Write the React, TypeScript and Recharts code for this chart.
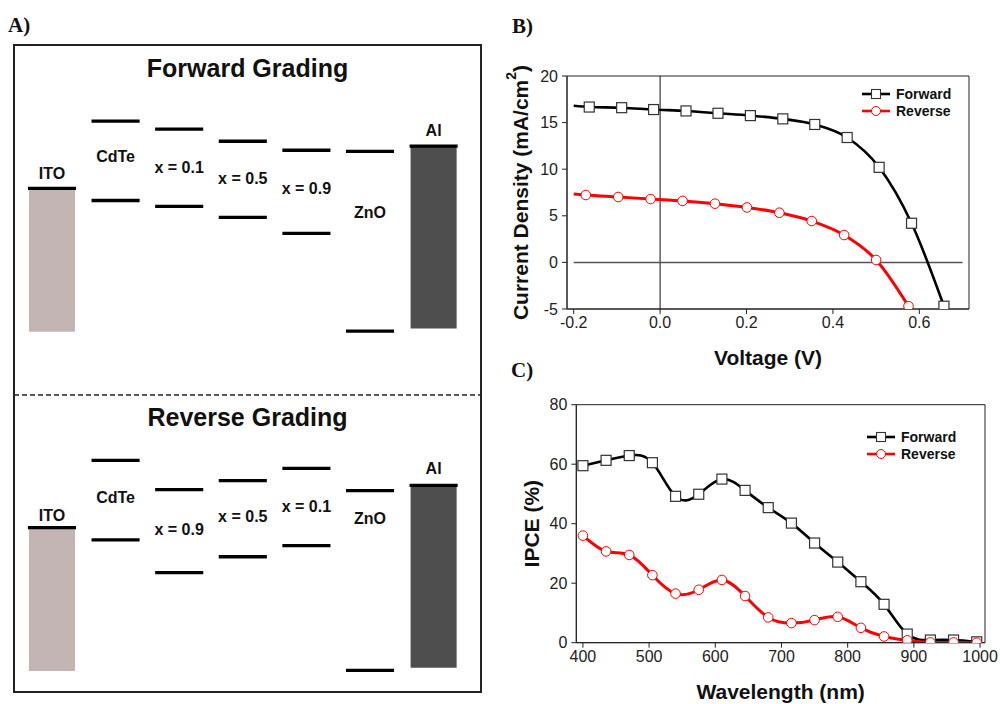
import {
  ComposedChart, LineChart, Line, Scatter, XAxis, YAxis, ReferenceLine, ReferenceArea, Label,
} from "recharts";

const SANS = "'Liberation Sans', Arial, sans-serif";
const SERIF = "'Liberation Serif', 'Times New Roman', serif";

// ---- A) energy levels (eV) ----
const fwdLayers = ["ITO", "CdTe", "x = 0.1", "x = 0.5", "x = 0.9", "ZnO", "Al"];
const fwdUpper = [-5.1, -3.83, -3.98, -4.21, -4.38, -4.4, -4.3];
const fwdLower = [-7.81, -5.33, -5.44, -5.65, -5.95, -7.8, -7.75];
const fwdLabelE = [-4.81, -4.5, -4.71, -4.91, -5.11, -5.56, -4.0];

const revLayers = ["ITO", "CdTe", "x = 0.9", "x = 0.5", "x = 0.1", "ZnO", "Al"];
const revUpper = [-5.1, -3.83, -4.38, -4.21, -3.98, -4.4, -4.3];
const revLower = [-7.81, -5.33, -5.95, -5.65, -5.44, -7.8, -7.75];
const revLabelE = [-4.88, -4.53, -5.13, -4.89, -4.7, -4.92, -3.99];

// electrodes are drawn as filled blocks
const electrodeFill: Record<string, string> = { ITO: "#c4b5b5", Al: "#4e4e4e" };

// ---- B) J-V ----
const jvFwdV = [-0.2, -0.164, -0.089, -0.015, 0.06, 0.134, 0.209, 0.284, 0.358, 0.433, 0.507, 0.582, 0.657];
const jvFwdJ = [16.8, 16.67, 16.6, 16.4, 16.25, 16.0, 15.75, 15.4, 14.8, 13.4, 10.2, 4.2, -4.7];
const jvRevV = [-0.2, -0.172, -0.097, -0.022, 0.052, 0.127, 0.201, 0.276, 0.351, 0.426, 0.5, 0.575];
const jvRevJ = [7.34, 7.23, 7.02, 6.8, 6.6, 6.3, 5.9, 5.33, 4.44, 2.94, 0.26, -4.7];
const jvXTicks = [-0.2, 0, 0.2, 0.4, 0.6];
const jvYTicks = [-5, 0, 5, 10, 15, 20];

// ---- C) IPCE ----
const wavelength = [400, 435, 470, 505, 540, 575, 610, 645, 680, 715, 750, 785, 820, 855, 890, 925, 960, 995];
const ipceFwd = [59.5, 61.3, 62.9, 60.5, 49.2, 49.9, 55.0, 51.2, 45.4, 40.2, 33.5, 27.1, 20.5, 12.9, 2.9, 0.9, 0.9, 0.3];
const ipceRev = [36.0, 30.7, 29.5, 22.7, 16.5, 17.8, 21.1, 15.7, 8.5, 6.6, 7.6, 8.7, 5.0, 2.1, 0.8, 0.1, 0.1, 0];
const ipceXTicks = [400, 500, 600, 700, 800, 900, 1000];
const ipceYTicks = [0, 20, 40, 60, 80];

const HALF_LINE = 0.378;
const HALF_BLOCK = 0.362;

function LevelDiagram({ layers, upper, lower, labelE, yDomain, width, height }: {
  layers: string[]; upper: number[]; lower: number[]; labelE: number[];
  yDomain: [number, number]; width: number; height: number;
}) {
  const labels = layers.map((name, i) => ({ x: i, y: labelE[i], name }));
  return (
    <ComposedChart width={width} height={height} margin={{ top: 0, right: 0, bottom: 0, left: 0 }}>
      <XAxis type="number" dataKey="x" domain={[-0.597, 6.745]} hide allowDataOverflow />
      <YAxis type="number" dataKey="y" domain={yDomain} hide allowDataOverflow />
      {layers.map((name, i) =>
        electrodeFill[name] ? (
          <ReferenceArea key={`blk${i}`} x1={i - HALF_BLOCK} x2={i + HALF_BLOCK} y1={lower[i]} y2={upper[i]}
            fill={electrodeFill[name]} fillOpacity={1} stroke="none" />
        ) : null
      )}
      {layers.map((name, i) => (
        <ReferenceLine key={`up${i}`} segment={[{ x: i - HALF_LINE, y: upper[i] }, { x: i + HALF_LINE, y: upper[i] }]}
          stroke="#000" strokeWidth={3.3} />
      ))}
      {layers.map((name, i) =>
        electrodeFill[name] ? null : (
          <ReferenceLine key={`lo${i}`} segment={[{ x: i - HALF_LINE, y: lower[i] }, { x: i + HALF_LINE, y: lower[i] }]}
            stroke="#000" strokeWidth={3.3} />
        )
      )}
      <Scatter data={labels} isAnimationActive={false}
        shape={(p: any) => (
          <text x={p.cx} y={p.cy} textAnchor="middle" dominantBaseline="central"
            fontFamily={SANS} fontWeight="bold" fontSize={16} fill="#111">{p.payload.name}</text>
        )} />
    </ComposedChart>
  );
}

const squareDot = (props: any) => {
  const { cx, cy, index } = props;
  if (index === 0 && props.skipFirst) return <g key={`s${index}`} />;
  return <rect key={`s${index}`} x={cx - 5} y={cy - 5} width={10} height={10} fill="#fff" stroke="#333" strokeWidth={1.2} />;
};
const circleDot = (props: any) => {
  const { cx, cy, index } = props;
  if (index === 0 && props.skipFirst) return <g key={`c${index}`} />;
  return <circle key={`c${index}`} cx={cx} cy={cy} r={4.8} fill="#fff" stroke="#ff0000" strokeWidth={1} />;
};

function LegendKey({ left, top }: { left: number; top: number }) {
  const rows = [
    { name: "Forward", color: "#000", marker: "square" },
    { name: "Reverse", color: "#ff0000", marker: "circle" },
  ];
  return (
    <div style={{ position: "absolute", left, top, fontFamily: SANS, fontWeight: "bold", fontSize: 14, color: "#111" }}>
      {rows.map((r) => (
        <div key={r.name} style={{ display: "flex", alignItems: "center", height: 17 }}>
          <svg width={28} height={12} style={{ marginRight: 6 }}>
            <line x1={0} x2={28} y1={6} y2={6} stroke={r.color} strokeWidth={2.6} />
            {r.marker === "square"
              ? <rect x={9.5} y={1.5} width={9} height={9} fill="#fff" stroke="#333" strokeWidth={1.1} />
              : <circle cx={14} cy={6} r={4.5} fill="#fff" stroke="#ff0000" strokeWidth={1} />}
          </svg>
          <span>{r.name}</span>
        </div>
      ))}
    </div>
  );
}

const tickStyle = { fill: "#222", fontSize: 16, fontFamily: SANS };

function YTitle({ viewBox, offset, children }: any) {
  const cx = viewBox.x + offset;
  const cy = viewBox.y + viewBox.height / 2;
  return (
    <text x={cx} y={cy} transform={`rotate(-90 ${cx} ${cy})`} textAnchor="middle" dominantBaseline="central"
      fontFamily={SANS} fontWeight="bold" fontSize={21} fill="#111">{children}</text>
  );
}

function JVChart() {
  const fwd = jvFwdV.map((v, i) => ({ v, j: jvFwdJ[i] }));
  const rev = jvRevV.map((v, i) => ({ v, j: jvRevJ[i] }));
  return (
    <LineChart width={490} height={330} margin={{ top: 26, right: 21, bottom: 11, left: 0 }}>
      <XAxis type="number" dataKey="v" domain={[-0.2155, 0.715]} ticks={jvXTicks} allowDataOverflow
        tickFormatter={(t: number) => t.toFixed(1)} tick={tickStyle} tickSize={5} tickMargin={3}
        stroke="#222" height={60}
        label={{ value: "Voltage (V)", position: "insideBottom", offset: 4.5, fill: "#111", fontSize: 21, fontWeight: "bold", fontFamily: SANS }} />
      <YAxis type="number" dataKey="j" domain={[-5, 20]} ticks={jvYTicks} allowDataOverflow
        tick={tickStyle} tickSize={5} tickMargin={4} stroke="#222" width={67}>
        <Label content={(p: any) => (
          <YTitle viewBox={p.viewBox} offset={20}>
            <tspan>Current Density (mA/cm</tspan><tspan fontSize={14} dy={-9}>2</tspan><tspan dy={9}>)</tspan>
          </YTitle>
        )} />
      </YAxis>
      <ReferenceArea x1={-0.2155} x2={0.715} y1={-5} y2={20} fill="none" stroke="#222" strokeWidth={1} />
      <ReferenceLine x={0} stroke="#111" strokeWidth={1} />
      <ReferenceLine segment={[{ x: -0.2, y: 0 }, { x: 0.7, y: 0 }]} stroke="#555" strokeWidth={1.5} />
      <Line data={fwd} dataKey="j" type="monotone" stroke="#000" strokeWidth={2.6}
        dot={(p: any) => squareDot({ ...p, skipFirst: true })} isAnimationActive={false} />
      <Line data={rev} dataKey="j" type="monotone" stroke="#ff0000" strokeWidth={3}
        dot={(p: any) => circleDot({ ...p, skipFirst: true })} isAnimationActive={false} />
    </LineChart>
  );
}

function IPCEChart() {
  const data = wavelength.map((w, i) => ({ w, f: ipceFwd[i], r: ipceRev[i] }));
  return (
    <LineChart width={500} height={324} data={data} margin={{ top: 24.7, right: 15, bottom: 3.3, left: 0 }}>
      <XAxis type="number" dataKey="w" domain={[390, 1007.5]} ticks={ipceXTicks} allowDataOverflow
        tick={tickStyle} tickSize={5} tickMargin={3} stroke="#222" height={58}
        label={{ value: "Wavelength (nm)", position: "insideBottom", offset: 2, fill: "#111", fontSize: 21, fontWeight: "bold", fontFamily: SANS }} />
      <YAxis type="number" domain={[0, 80]} ticks={ipceYTicks} allowDataOverflow
        tick={tickStyle} tickSize={5} tickMargin={4} stroke="#222" width={76.3}>
        <Label content={(p: any) => <YTitle viewBox={p.viewBox} offset={32}>IPCE (%)</YTitle>} />
      </YAxis>
      <ReferenceArea x1={390} x2={1007.5} y1={0} y2={80} fill="none" stroke="#222" strokeWidth={1} />
      <Line dataKey="f" type="natural" stroke="#000" strokeWidth={2.6} dot={squareDot} isAnimationActive={false} />
      <Line dataKey="r" type="natural" stroke="#ff0000" strokeWidth={3} dot={circleDot} isAnimationActive={false} />
    </LineChart>
  );
}

const panelLetter = { position: "absolute" as const, fontFamily: SERIF, fontWeight: "bold" as const, fontSize: 21, lineHeight: 1, color: "#111" };
const gradTitle = { position: "absolute" as const, left: 14, width: 467, textAlign: "center" as const, fontFamily: SANS, fontWeight: "bold" as const, fontSize: 25, lineHeight: 1, color: "#111" };

export default function App() {
  return (
    <div style={{ position: "absolute", left: 0, top: 0, width: 1000, height: 704, background: "#fff", overflow: "hidden" }}>
      <div style={{ ...panelLetter, left: 8, top: 14.5 }}>A)</div>
      <div style={{ ...panelLetter, left: 512, top: 15.5 }}>B)</div>
      <div style={{ ...panelLetter, left: 511, top: 359.5 }}>C)</div>

      <div style={{ position: "absolute", left: 13, top: 44, width: 469, height: 649, border: "2px solid #222", boxSizing: "border-box" }} />
      <svg style={{ position: "absolute", left: 0, top: 0 }} width={490} height={704}>
        <line x1={14} x2={481} y1={395} y2={395} stroke="#222" strokeWidth={1.6} strokeDasharray="5 3" />
      </svg>
      <div style={{ ...gradTitle, top: 55.8 }}>Forward Grading</div>
      <div style={{ ...gradTitle, top: 404.8 }}>Reverse Grading</div>

      <div style={{ position: "absolute", left: 14, top: 45 }}>
        <LevelDiagram layers={fwdLayers} upper={fwdUpper} lower={fwdLower} labelE={fwdLabelE}
          yDomain={[-9.007, -2.39]} width={467} height={350} />
      </div>
      <div style={{ position: "absolute", left: 14, top: 395 }}>
        <LevelDiagram layers={revLayers} upper={revUpper} lower={revLower} labelE={revLabelE}
          yDomain={[-8.207, -2.593]} width={467} height={297} />
      </div>

      <div style={{ position: "absolute", left: 500, top: 50 }}>
        <JVChart />
      </div>
      <LegendKey left={862} top={85.5} />

      <div style={{ position: "absolute", left: 500, top: 380 }}>
        <IPCEChart />
      </div>
      <LegendKey left={867} top={428.8} />
    </div>
  );
}
